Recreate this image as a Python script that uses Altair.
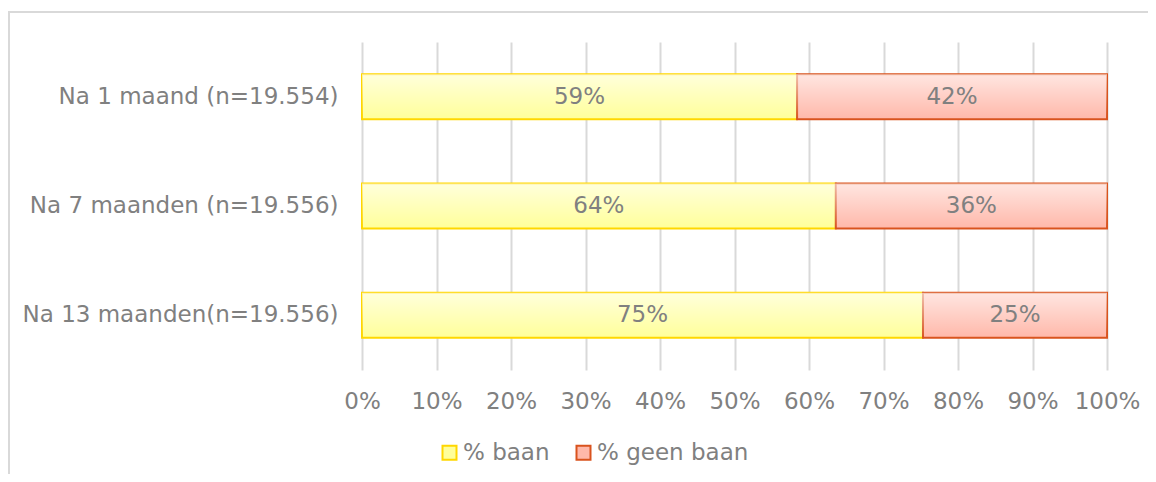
import altair as alt
import pandas as pd

categories = ["Na 1 maand (n=19.554)", "Na 7 maanden (n=19.556)", "Na 13 maanden(n=19.556)"]
series = ["% baan", "% geen baan"]
baan = [58.4, 63.6, 75.3]
geen_baan = [41.6, 36.4, 24.7]
baan_labels = ["59%", "64%", "75%"]
geen_labels = ["42%", "36%", "25%"]
x_ticks = [0, 10, 20, 30, 40, 50, 60, 70, 80, 90, 100]

rows = []
for i, c in enumerate(categories):
    rows.append({"cat": c, "series": series[0], "start": 0, "end": baan[i], "label": baan_labels[i]})
    rows.append({"cat": c, "series": series[1], "start": baan[i], "end": baan[i] + geen_baan[i], "label": geen_labels[i]})
df = pd.DataFrame(rows)

FONT = "DejaVu Sans"
GRAY = "#808080"
FS = 23
W, H = 745, 328

base = alt.Chart(df)

y_enc = alt.Y("cat:N", sort=categories, title=None,
              axis=alt.Axis(domain=False, ticks=False, labelFontSize=FS, labelColor=GRAY,
                            labelFont=FONT, labelPadding=24, labelLimit=400, grid=False),
              scale=alt.Scale(paddingInner=0.588, paddingOuter=0.294))

x_enc = alt.X("start:Q", title=None,
              scale=alt.Scale(domain=[0, 100], nice=False),
              axis=alt.Axis(values=x_ticks, labelExpr="datum.value + '%'", domain=False, ticks=False,
                            labelFontSize=FS, labelColor=GRAY, labelFont=FONT, labelPadding=20,
                            grid=True, gridColor="#D9D9D9", gridWidth=2, labelFlush=False))

frame = alt.Chart(pd.DataFrame({"a": [0]})).mark_rect(fill="transparent", stroke="#D9D9D9", strokeWidth=2).encode(
    x=alt.value(-353), x2=alt.value(W + 100), y=alt.value(-30), y2=alt.value(H + 200)
)

bars = base.mark_bar(strokeWidth=2).encode(
    y=y_enc,
    x=x_enc,
    x2="end:Q",
    fill=alt.Fill("series:N", sort=series,
                  scale=alt.Scale(domain=series, range=["#FFFF9A", "#FFB8AA"]),
                  legend=alt.Legend(title=None, orient="none", legendX=76, legendY=399, direction="horizontal",
                                    symbolType="square", symbolSize=196, symbolStrokeWidth=2,
                                    labelFontSize=FS, labelColor=GRAY, labelFont=FONT, labelOffset=2,
                                    columnPadding=22, symbolOffset=0)),
    stroke=alt.Stroke("series:N", sort=series,
                      scale=alt.Scale(domain=series, range=["#FFD700", "#D9531E"])),
)

shine = base.mark_bar(
    strokeWidth=0,
    fill=alt.Gradient(gradient="linear", x1=0, y1=0, x2=0, y2=1,
                      stops=[alt.GradientStop(color="rgba(255,255,255,0.65)", offset=0),
                             alt.GradientStop(color="rgba(255,255,255,0)", offset=1)])
).encode(
    y=alt.Y("cat:N", sort=categories),
    x=alt.X("start:Q"),
    x2="end:Q",
)

texts = base.transform_calculate(mid="(datum.start + datum.end) / 2").mark_text(
    fontSize=FS, color=GRAY, font=FONT, baseline="middle", align="center"
).encode(
    y=alt.Y("cat:N", sort=categories),
    x=alt.X("mid:Q"),
    text="label:N",
)

chart = alt.layer(frame, bars, shine, texts).properties(
    width=W, height=H,
    background="white",
    autosize=alt.AutoSizeParams(type="none"),
    padding={"left": 354, "top": 34, "right": 41, "bottom": 104},
).configure_view(stroke=None)

chart.save("out.html", embed_options={"renderer": "svg", "actions": False})
